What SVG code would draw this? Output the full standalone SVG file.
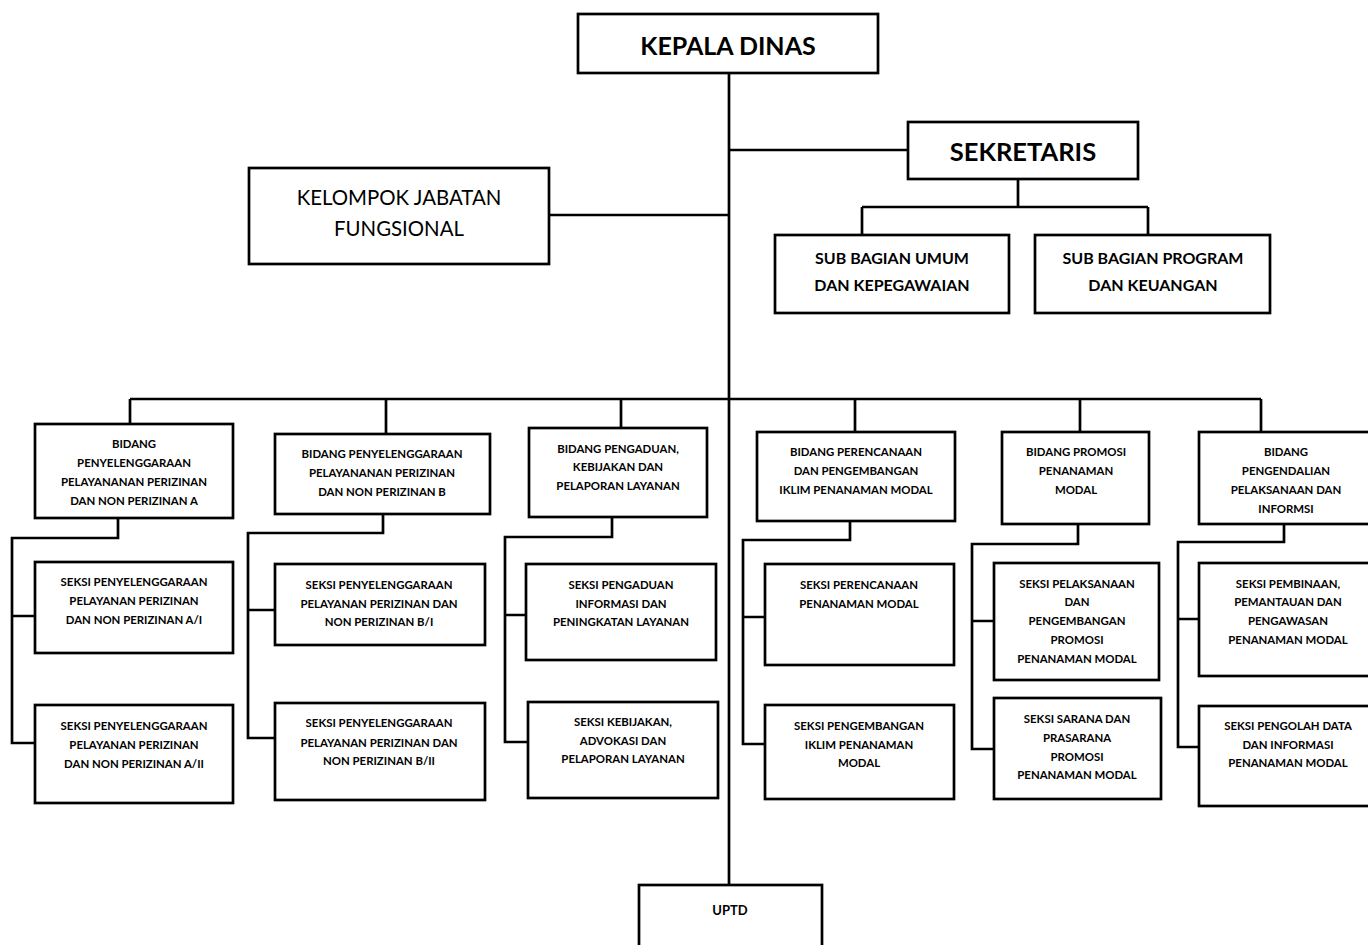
<svg xmlns="http://www.w3.org/2000/svg" width="1368" height="945" viewBox="0 0 1368 945">
<style>
.box{fill:#fff;stroke:#000;stroke-width:2.7}
.ln{fill:none;stroke:#000;stroke-width:2.7}
text{font-family:Lato,"Open Sans","Liberation Sans",sans-serif;fill:#000;text-anchor:middle;dominant-baseline:central}
.s{font-size:11.4px;font-weight:bold}
.m{font-size:16px;font-weight:bold}
.k{font-size:20.4px}
.h{font-size:25px;font-weight:bold}
.h2{font-size:25.5px;font-weight:bold}
</style>
<rect width="1368" height="945" fill="#fff"/>
<g id="connectors" class="ln">
<path d="M729 73V885"/>
<path d="M729 150H908"/>
<path d="M549 215H729"/>
<path d="M1018 179V207M862 207H1148M862 207V235M1148 207V235"/>
<path d="M130 399H1261M130 399V424M386 399V434M621 399V428M855 399V432M1080 399V432M1261 399V432"/>
<path d="M118 518V538H12V743H34M12 616H34"/>
<path d="M383 514V533H248V738H275M248 610H275"/>
<path d="M612 517V537H505V742H528M505 615H526"/>
<path d="M850 521V540H743V744H765M743 617H765"/>
<path d="M1078 524V544H972V749H994M972 621H994"/>
<path d="M1284 524V542H1178V747H1199M1178 619H1199"/>
</g>
<g id="kepala"><rect class="box" x="578" y="14" width="300" height="59"/><text class="h" x="728" y="45">KEPALA DINAS</text></g>
<g id="sekretaris"><rect class="box" x="908" y="122" width="230" height="57"/><text class="h2" x="1023" y="151">SEKRETARIS</text></g>
<g id="kelompok"><rect class="box" x="249" y="168" width="300" height="96"/><text class="k" x="399"><tspan x="399" y="197">KELOMPOK JABATAN</tspan><tspan x="399" y="228">FUNGSIONAL</tspan></text></g>
<g id="subumum"><rect class="box" x="775" y="235" width="234" height="78"/><text class="m"><tspan x="892" y="257">SUB BAGIAN UMUM</tspan><tspan x="892" y="284">DAN KEPEGAWAIAN</tspan></text></g>
<g id="subprogram"><rect class="box" x="1035" y="235" width="235" height="78"/><text class="m"><tspan x="1153" y="257">SUB BAGIAN PROGRAM</tspan><tspan x="1153" y="284">DAN KEUANGAN</tspan></text></g>

<g id="bidangA"><rect class="box" x="35" y="424" width="198" height="94"/><text class="s"><tspan x="134" y="443">BIDANG</tspan><tspan x="134" y="462">PENYELENGGARAAN</tspan><tspan x="134" y="481">PELAYANANAN PERIZINAN</tspan><tspan x="134" y="500">DAN NON PERIZINAN A</tspan></text></g>
<g id="seksiA1"><rect class="box" x="35" y="562" width="198" height="91"/><text class="s"><tspan x="134" y="581">SEKSI PENYELENGGARAAN</tspan><tspan x="134" y="600">PELAYANAN PERIZINAN</tspan><tspan x="134" y="619">DAN NON PERIZINAN A/I</tspan></text></g>
<g id="seksiA2"><rect class="box" x="35" y="705" width="198" height="98"/><text class="s"><tspan x="134" y="725">SEKSI PENYELENGGARAAN</tspan><tspan x="134" y="744">PELAYANAN PERIZINAN</tspan><tspan x="134" y="763">DAN NON PERIZINAN A/II</tspan></text></g>

<g id="bidangB"><rect class="box" x="275" y="434" width="215" height="80"/><text class="s"><tspan x="382" y="453">BIDANG PENYELENGGARAAN</tspan><tspan x="382" y="472">PELAYANANAN PERIZINAN</tspan><tspan x="382" y="491">DAN NON PERIZINAN B</tspan></text></g>
<g id="seksiB1"><rect class="box" x="275" y="564" width="210" height="81"/><text class="s"><tspan x="379" y="584">SEKSI PENYELENGGARAAN</tspan><tspan x="379" y="603">PELAYANAN PERIZINAN DAN</tspan><tspan x="379" y="621">NON PERIZINAN B/I</tspan></text></g>
<g id="seksiB2"><rect class="box" x="275" y="703" width="210" height="97"/><text class="s"><tspan x="379" y="722">SEKSI PENYELENGGARAAN</tspan><tspan x="379" y="742">PELAYANAN PERIZINAN DAN</tspan><tspan x="379" y="760">NON PERIZINAN B/II</tspan></text></g>

<g id="bidangPengaduan"><rect class="box" x="529" y="428" width="178" height="89"/><text class="s"><tspan x="618" y="448">BIDANG PENGADUAN,</tspan><tspan x="618" y="466">KEBIJAKAN DAN</tspan><tspan x="618" y="485">PELAPORAN LAYANAN</tspan></text></g>
<g id="seksiPengaduan"><rect class="box" x="526" y="564" width="190" height="96"/><text class="s"><tspan x="621" y="584">SEKSI PENGADUAN</tspan><tspan x="621" y="603">INFORMASI DAN</tspan><tspan x="621" y="621">PENINGKATAN LAYANAN</tspan></text></g>
<g id="seksiKebijakan"><rect class="box" x="528" y="702" width="190" height="96"/><text class="s"><tspan x="623" y="721">SEKSI KEBIJAKAN,</tspan><tspan x="623" y="740">ADVOKASI DAN</tspan><tspan x="623" y="758">PELAPORAN LAYANAN</tspan></text></g>

<g id="bidangPerencanaan"><rect class="box" x="757" y="432" width="198" height="89"/><text class="s"><tspan x="856" y="451">BIDANG PERENCANAAN</tspan><tspan x="856" y="470">DAN PENGEMBANGAN</tspan><tspan x="856" y="489">IKLIM PENANAMAN MODAL</tspan></text></g>
<g id="seksiPerencanaan"><rect class="box" x="765" y="564" width="189" height="101"/><text class="s"><tspan x="859" y="584">SEKSI PERENCANAAN</tspan><tspan x="859" y="603">PENANAMAN MODAL</tspan></text></g>
<g id="seksiPengembangan"><rect class="box" x="765" y="705" width="189" height="94"/><text class="s"><tspan x="859" y="725">SEKSI PENGEMBANGAN</tspan><tspan x="859" y="744">IKLIM PENANAMAN</tspan><tspan x="859" y="762">MODAL</tspan></text></g>

<g id="bidangPromosi"><rect class="box" x="1002" y="432" width="147" height="92"/><text class="s"><tspan x="1076" y="451">BIDANG PROMOSI</tspan><tspan x="1076" y="470">PENANAMAN</tspan><tspan x="1076" y="489">MODAL</tspan></text></g>
<g id="seksiPelaksanaan"><rect class="box" x="994" y="563" width="165" height="117"/><text class="s"><tspan x="1077" y="583">SEKSI PELAKSANAAN</tspan><tspan x="1077" y="601">DAN</tspan><tspan x="1077" y="620">PENGEMBANGAN</tspan><tspan x="1077" y="639">PROMOSI</tspan><tspan x="1077" y="658">PENANAMAN MODAL</tspan></text></g>
<g id="seksiSarana"><rect class="box" x="994" y="698" width="167" height="101"/><text class="s"><tspan x="1077" y="718">SEKSI SARANA DAN</tspan><tspan x="1077" y="737">PRASARANA</tspan><tspan x="1077" y="756">PROMOSI</tspan><tspan x="1077" y="774">PENANAMAN MODAL</tspan></text></g>

<g id="bidangPengendalian"><rect class="box" x="1199" y="432" width="174" height="92"/><text class="s"><tspan x="1286" y="451">BIDANG</tspan><tspan x="1286" y="470">PENGENDALIAN</tspan><tspan x="1286" y="489">PELAKSANAAN DAN</tspan><tspan x="1286" y="508">INFORMSI</tspan></text></g>
<g id="seksiPembinaan"><rect class="box" x="1199" y="563" width="178" height="113"/><text class="s"><tspan x="1288" y="583">SEKSI PEMBINAAN,</tspan><tspan x="1288" y="601">PEMANTAUAN DAN</tspan><tspan x="1288" y="620">PENGAWASAN</tspan><tspan x="1288" y="639">PENANAMAN MODAL</tspan></text></g>
<g id="seksiPengolah"><rect class="box" x="1199" y="706" width="178" height="100"/><text class="s"><tspan x="1288" y="725">SEKSI PENGOLAH DATA</tspan><tspan x="1288" y="744">DAN INFORMASI</tspan><tspan x="1288" y="762">PENANAMAN MODAL</tspan></text></g>

<g id="uptd"><rect class="box" x="639" y="885" width="183" height="70"/><text class="s" style="font-size:13px" x="730" y="910">UPTD</text></g>
</svg>
